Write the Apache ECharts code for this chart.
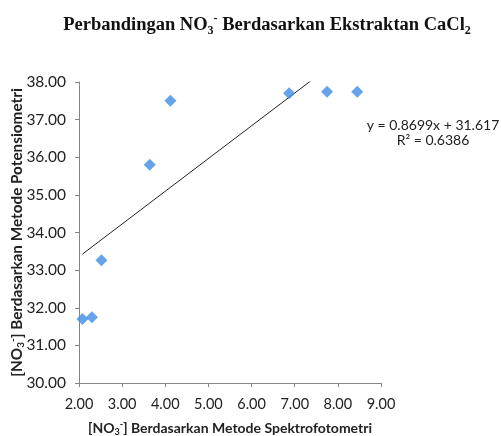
<!DOCTYPE html>
<html><head><meta charset="utf-8">
<script src="https://cdn.jsdelivr.net/npm/echarts@6/dist/echarts.min.js"></script>
<style>html,body{margin:0;padding:0;background:#fff}#c{width:501px;height:436px}</style>
</head><body><div id="c"></div>
<script>
const xValues = [2.08, 2.30, 2.52, 3.64, 4.12, 6.87, 7.75, 8.45];
const yValues = [31.70, 31.75, 33.26, 35.80, 37.50, 37.70, 37.74, 37.74];
const slope = 0.8699;
const intercept = 31.617;
const rSquared = 0.6386;

const points = xValues.map((x, i) => [x, yValues[i]]);
const xMin = Math.min(...xValues), xMax = Math.max(...xValues);
const trend = [[xMin, slope * xMin + intercept], [xMax, slope * xMax + intercept]];

const chart = echarts.init(document.getElementById('c'), null, {renderer: 'canvas'});
function nameRich(size) {
  return {
    a: {fontFamily: 'Lato', fontWeight: 'bold', fontSize: size, color: '#222', lineHeight: size + 3},
    s: {fontFamily: 'Lato', fontWeight: 'bold', fontSize: size * 0.65, color: '#222', verticalAlign: 'bottom', padding: [6,0,0,0]},
    p: {fontFamily: 'Lato', fontWeight: 'bold', fontSize: size * 0.65, color: '#222', verticalAlign: 'top', padding: [0,0,6,0]}
  };
}
chart.setOption({
  animation: false,
  backgroundColor: '#fff',
  title: {
    left: 262, top: 8, textAlign: 'center',
    text: '{a|Perbandingan NO}{s|3}{p|-}{a| Berdasarkan Ekstraktan CaCl}{s|2}',
    textStyle: {
      rich: {
        a: {fontFamily: 'Liberation Serif', fontWeight: 'bold', fontSize: 18.5, color: '#111', lineHeight: 24, verticalAlign: 'middle'},
        s: {fontFamily: 'Liberation Serif', fontWeight: 'bold', fontSize: 12, color: '#111', verticalAlign: 'bottom', lineHeight: 24, padding: [9, 0, 0, 0]},
        p: {fontFamily: 'Liberation Serif', fontWeight: 'bold', fontSize: 12, color: '#111', verticalAlign: 'top', lineHeight: 24, padding: [0, 0, 9, 0]}
      }
    }
  },
  grid: {left: 79, right: 120, top: 82, bottom: 53, containLabel: false, outerBoundsMode: 'none'},
  xAxis: {
    type: 'value', min: 2, max: 9, interval: 1,
    axisLine: {show: true, lineStyle: {color: '#868686'}},
    axisTick: {show: true, length: 4, lineStyle: {color: '#868686'}},
    splitLine: {show: false},
    axisLabel: {formatter: v => v.toFixed(2), margin: 14, fontFamily: 'Lato', fontSize: 14.5, color: '#222'},
    name: '{a|[NO}{s|3}{p|-}{a|] Berdasarkan Metode Spektrofotometri}',
    nameLocation: 'middle', nameGap: 37, nameMoveOverlap: false,
    nameTextStyle: {rich: nameRich(14)}
  },
  yAxis: {
    type: 'value', min: 30, max: 38, interval: 1,
    axisLine: {show: true, lineStyle: {color: '#868686'}},
    axisTick: {show: true, length: 4, lineStyle: {color: '#868686'}},
    splitLine: {show: false},
    axisLabel: {formatter: v => v.toFixed(2), margin: 13, fontFamily: 'Lato', fontSize: 15.5, color: '#222'},
    name: '{a|[NO}{s|3}{p|-}{a|] Berdasarkan Metode Potensiometri}',
    nameLocation: 'middle', nameGap: 53, nameRotate: 90, nameMoveOverlap: false,
    nameTextStyle: {rich: nameRich(15.3)}
  },
  series: [
    {type: 'line', data: trend, symbol: 'none', clip: true,
     lineStyle: {color: '#222', width: 1}, silent: true, z: 1},
    {type: 'scatter', data: points, symbol: 'diamond', symbolSize: 12,
     itemStyle: {color: '#3f8de6'}, z: 2}
  ],
  graphic: [{
    type: 'text', x: 433, y: 118,
    style: {
      text: 'y = ' + slope.toFixed(4) + 'x + ' + intercept.toFixed(3) + '\nR² = ' + rSquared.toFixed(4),
      align: 'center', verticalAlign: 'top', font: '14px Lato', fill: '#222', lineHeight: 15
    }
  }]
});
</script></body></html>
